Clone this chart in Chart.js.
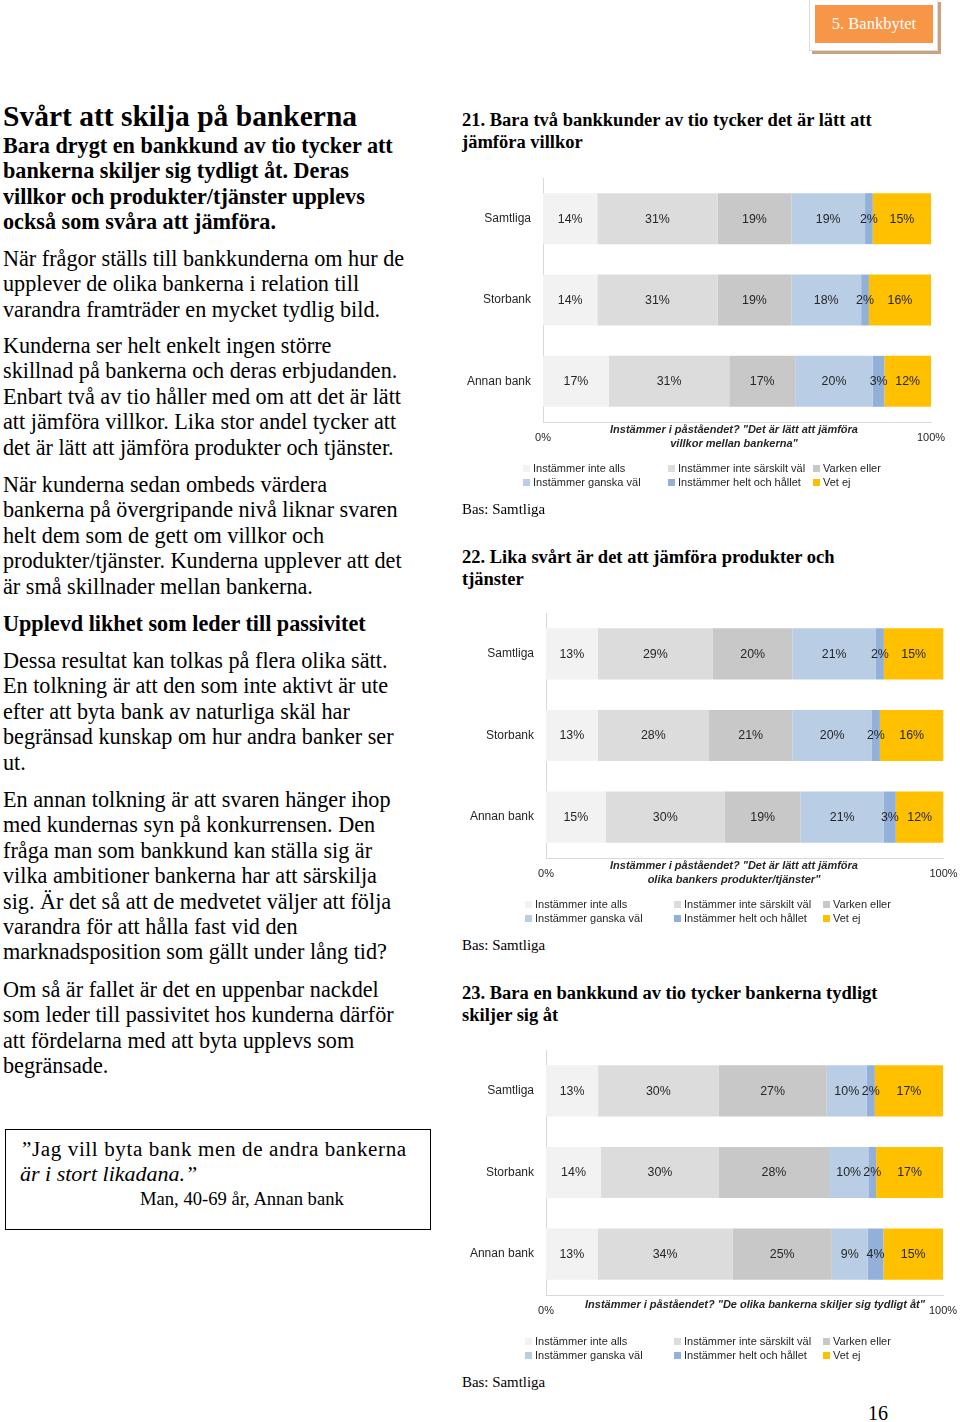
<!DOCTYPE html>
<html lang="sv">
<head>
<meta charset="utf-8">
<script src="https://cdn.jsdelivr.net/npm/chart.js@4.4.1/dist/chart.umd.min.js"></script>
<style>
  html,body{margin:0;padding:0;background:#fff}
  body{width:960px;height:1422px;position:relative;overflow:hidden;font-family:"Liberation Serif","Times New Roman",serif;color:#000}
  .blk{position:absolute;left:3px;white-space:nowrap;font-size:22.2px;line-height:25.4px}
  .b{font-weight:bold}
  .ttl{position:absolute;left:3px;top:100px;font-size:29.5px;line-height:32px;font-weight:bold;white-space:nowrap}
  .ctitle{position:absolute;left:462px;font-size:18.5px;line-height:22px;font-weight:bold;white-space:nowrap}
  .bas{position:absolute;left:462px;font-size:14.9px;line-height:16px;white-space:nowrap}
  canvas{position:absolute;left:460px}
  #hdrOuter{position:absolute;left:809px;top:-1px;width:127px;height:50px;background:#fff;border:1px solid #ddd;box-shadow:3px 3px 0 #c9a27e}
  #hdr{position:absolute;left:815px;top:5px;width:118px;height:38px;background:#f79646;color:#fff;font-size:16.5px;line-height:38px;text-align:center}
  #quote{position:absolute;left:5px;top:1129px;width:424px;height:99px;border:1.5px solid #000}
  .q{position:absolute;white-space:nowrap}
  #pg{position:absolute;left:868px;top:1401px;font-size:20px;line-height:24px}
</style>
</head>
<body>
<div id="hdrOuter"></div>
<div id="hdr">5. Bankbytet</div>

<div class="ttl">Svårt att skilja på bankerna</div>
<div class="blk b" style="top:133px">Bara drygt en bankkund av tio tycker att<br>bankerna skiljer sig tydligt åt. Deras<br>villkor och produkter/tjänster upplevs<br>också som svåra att jämföra.</div>
<div class="blk" style="top:246px">När frågor ställs till bankkunderna om hur de<br>upplever de olika bankerna i relation till<br>varandra framträder en mycket tydlig bild.</div>
<div class="blk" style="top:333px">Kunderna ser helt enkelt ingen större<br>skillnad på bankerna och deras erbjudanden.<br>Enbart två av tio håller med om att det är lätt<br>att jämföra villkor. Lika stor andel tycker att<br>det är lätt att jämföra produkter och tjänster.</div>
<div class="blk" style="top:472px">När kunderna sedan ombeds värdera<br>bankerna på övergripande nivå liknar svaren<br>helt dem som de gett om villkor och<br>produkter/tjänster. Kunderna upplever att det<br>är små skillnader mellan bankerna.</div>
<div class="blk b" style="top:611px">Upplevd likhet som leder till passivitet</div>
<div class="blk" style="top:648px">Dessa resultat kan tolkas på flera olika sätt.<br>En tolkning är att den som inte aktivt är ute<br>efter att byta bank av naturliga skäl har<br>begränsad kunskap om hur andra banker ser<br>ut.</div>
<div class="blk" style="top:787px">En annan tolkning är att svaren hänger ihop<br>med kundernas syn på konkurrensen. Den<br>fråga man som bankkund kan ställa sig är<br>vilka ambitioner bankerna har att särskilja<br>sig. Är det så att de medvetet väljer att följa<br>varandra för att hålla fast vid den<br>marknadsposition som gällt under lång tid?</div>
<div class="blk" style="top:977px">Om så är fallet är det en uppenbar nackdel<br>som leder till passivitet hos kunderna därför<br>att fördelarna med att byta upplevs som<br>begränsade.</div>

<div id="quote"></div>
<div class="q" style="left:22px;top:1137px;font-size:21.1px;line-height:24px;letter-spacing:0.6px">”Jag vill byta bank men de andra bankerna</div>
<div class="q" style="left:20px;top:1162px;font-size:22px;line-height:24px;font-style:italic">är i stort likadana.”</div>
<div class="q" style="left:140px;top:1188px;font-size:18.6px;line-height:22px">Man, 40-69 år, Annan bank</div>

<div class="ctitle" style="top:109px">21. Bara två bankkunder av tio tycker det är lätt att<br>jämföra villkor</div>
<div class="ctitle" style="top:546px">22. Lika svårt är det att jämföra produkter och<br>tjänster</div>
<div class="ctitle" style="top:982px">23. Bara en bankkund av tio tycker bankerna tydligt<br>skiljer sig åt</div>

<canvas id="c21" width="500" height="335" style="top:170px;width:500px;height:335px"></canvas>
<canvas id="c22" width="500" height="330" style="top:605px;width:500px;height:330px"></canvas>
<canvas id="c23" width="500" height="330" style="top:1042px;width:500px;height:330px"></canvas>

<div class="bas" style="top:501px">Bas: Samtliga</div>
<div class="bas" style="top:937px">Bas: Samtliga</div>
<div class="bas" style="top:1374px">Bas: Samtliga</div>

<div id="pg">16</div>

<script>
// ---- data ----
const categories = ['Samtliga', 'Storbank', 'Annan bank'];
const seriesNames = ['Instämmer inte alls', 'Instämmer inte särskilt väl', 'Varken eller', 'Instämmer ganska väl', 'Instämmer helt och hållet', 'Vet ej'];
const xTickLabels = ['0%', '100%'];

// 21. villkor
const c21InteAlls      = [14, 14, 17];
const c21InteSarskilt  = [31, 31, 31];
const c21Varken        = [19, 19, 17];
const c21Ganska        = [19, 18, 20];
const c21Helt          = [2, 2, 3];
const c21VetEj         = [15, 16, 12];
const c21AxisTitle = ['Instämmer i påståendet? "Det är lätt att jämföra', 'villkor mellan bankerna"'];

// 22. produkter/tjänster
const c22InteAlls      = [13, 13, 15];
const c22InteSarskilt  = [29, 28, 30];
const c22Varken        = [20, 21, 19];
const c22Ganska        = [21, 20, 21];
const c22Helt          = [2, 2, 3];
const c22VetEj         = [15, 16, 12];
const c22AxisTitle = ['Instämmer i påståendet? "Det är lätt att jämföra', 'olika bankers produkter/tjänster"'];

// 23. skiljer sig åt
const c23InteAlls      = [13, 14, 13];
const c23InteSarskilt  = [30, 30, 34];
const c23Varken        = [27, 28, 25];
const c23Ganska        = [10, 10, 9];
const c23Helt          = [2, 2, 4];
const c23VetEj         = [17, 17, 15];
const c23AxisTitle = ['Instämmer i påståendet? "De olika bankerna skiljer sig tydligt åt"'];

// ---- styling ----
const seriesColors = ['#f2f2f2', '#dcdcdc', '#c8c8c8', '#b9cde5', '#93b1d8', '#ffc000'];
const SANS = '"Liberation Sans", Arial, sans-serif';
const TXT = '#262626';

const extras = {
  id: 'extras',
  afterDraw(chart, args, o) {
    const ctx = chart.ctx, a = chart.chartArea;
    ctx.save();
    // value labels
    ctx.font = '12.4px ' + SANS;
    ctx.fillStyle = TXT;
    ctx.textAlign = 'center';
    ctx.textBaseline = 'middle';
    chart.data.datasets.forEach((ds, di) => {
      chart.getDatasetMeta(di).data.forEach((bar, i) => {
        ctx.fillText(ds.rawValues[i] + '%', (bar.x + bar.base) / 2, bar.y + 0.5);
      });
    });
    // 0% / 100%
    ctx.font = '11px ' + SANS;
    ctx.fillText(o.ticks[0], a.left, a.bottom + 15.5);
    ctx.fillText(o.ticks[1], a.right, a.bottom + 15.5);
    // axis title
    ctx.font = 'italic bold 11px ' + SANS;
    o.axisTitle.forEach((line, k) => {
      ctx.fillText(line, a.left + o.titleDx, a.bottom + o.titleDy + k * 14);
    });
    // legend (3 columns x 2 rows)
    ctx.font = '11px ' + SANS;
    ctx.textAlign = 'left';
    chart.data.datasets.forEach((ds, di) => {
      const col = di % 3, row = Math.floor(di / 3);
      const tx = a.left + o.legendX[col];
      const ty = a.bottom + 46.5 + row * 14;
      ctx.fillStyle = ds.backgroundColor;
      ctx.fillRect(tx - 10, ty - 3.5, 7, 7);
      ctx.fillStyle = TXT;
      ctx.fillText(ds.label, tx, ty);
    });
    ctx.restore();
  }
};

function makeChart(id, series, area, axisTitle, titleDx, legendX) {
  const canvas = document.getElementById(id);
  const W = canvas.width, H = canvas.height;
  const totals = categories.map((_, i) => series.reduce((s, arr) => s + arr[i], 0));
  new Chart(canvas, {
    type: 'bar',
    data: {
      labels: categories,
      datasets: series.map((vals, k) => ({
        label: seriesNames[k],
        data: vals.map((v, i) => v / totals[i] * 100),   // 100% stacked like Excel
        rawValues: vals,
        backgroundColor: seriesColors[k],
        borderWidth: 0,
        barPercentage: 0.627,
        categoryPercentage: 1
      }))
    },
    options: {
      indexAxis: 'y',
      responsive: false,
      devicePixelRatio: 1,
      animation: false,
      layout: { padding: { left: 0, top: area.top, right: W - area.right, bottom: 0 } },
      scales: {
        x: {
          stacked: true, min: 0, max: 100,
          grid: { display: false, drawTicks: false },
          border: { display: true, color: '#d9d9d9', width: 1 },
          ticks: { display: false },
          afterFit(ax) { ax.height = H - area.bottom; ax.paddingLeft = 0; ax.paddingRight = 0; }
        },
        y: {
          stacked: true,
          grid: { display: false, drawTicks: false },
          border: { display: true, color: '#d9d9d9', width: 1 },
          ticks: { padding: 12, color: TXT, font: { family: SANS, size: 12 } },
          afterFit(ax) { ax.width = area.left; ax.paddingTop = 0; ax.paddingBottom = 0; }
        }
      },
      plugins: {
        legend: { display: false },
        tooltip: { enabled: false },
        extras: { ticks: xTickLabels, axisTitle, titleDx, titleDy: axisTitle.length > 1 ? 8 : 10, legendX }
      }
    },
    plugins: [extras]
  });
}

makeChart('c21', [c21InteAlls, c21InteSarskilt, c21Varken, c21Ganska, c21Helt, c21VetEj],
  { left: 83, right: 471, top: 8, bottom: 252 }, c21AxisTitle, 191, [-10, 135, 280]);
makeChart('c22', [c22InteAlls, c22InteSarskilt, c22Varken, c22Ganska, c22Helt, c22VetEj],
  { left: 86, right: 483.5, top: 8, bottom: 253 }, c22AxisTitle, 188, [-11, 138, 287]);
makeChart('c23', [c23InteAlls, c23InteSarskilt, c23Varken, c23Ganska, c23Helt, c23VetEj],
  { left: 86, right: 483, top: 8, bottom: 253 }, c23AxisTitle, 209, [-11, 138, 287]);
</script>
</body>
</html>
